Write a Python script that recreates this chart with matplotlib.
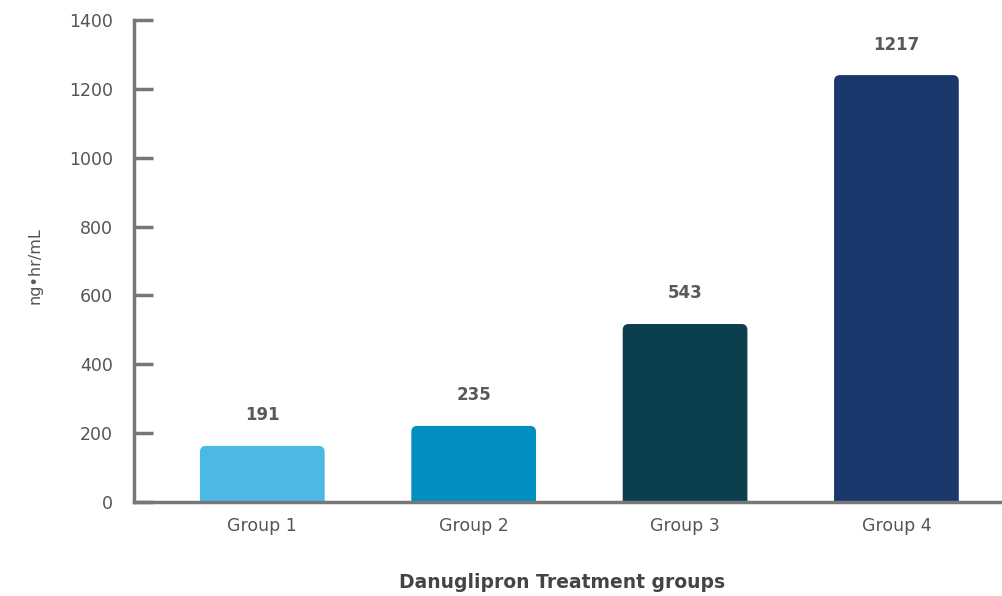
import matplotlib
matplotlib.use("Agg")
import matplotlib.pyplot as plt
from matplotlib.patches import FancyBboxPatch

categories = ["Group 1", "Group 2", "Group 3", "Group 4"]
bar_heights = [163, 221, 517, 1240]          # drawn heights
value_labels = ["191", "235", "543", "1217"]  # printed labels
colors = ["#4BB8E6", "#008FC0", "#0B3F4E", "#1A386B"]
yticks = [0, 200, 400, 600, 800, 1000, 1200, 1400]

plt.rcParams['font.family'] = ['DejaVu Sans']

fig = plt.figure(figsize=(10.02, 5.96), dpi=100)
ax = fig.add_axes([134/1002, 1-502/596, 866/1002, (502-20)/596])

x = list(range(len(categories)))
width = 0.59
bars = ax.bar(x, bar_heights, width=width, color=colors)
# replace rectangles with rounded ones
px_x = 211.0
px_y = 0.3443
rs = 6 / px_x
aspect = (1/px_y) / (1/px_x)
for b, c in zip(bars, colors):
    b.set_visible(False)
    p = FancyBboxPatch((b.get_x(), -30), b.get_width(), b.get_height() + 30,
                       boxstyle=f"round,pad=0,rounding_size={rs}",
                       mutation_aspect=aspect, facecolor=c, edgecolor='none')
    ax.add_patch(p)

for xi, h, lab in zip(x, bar_heights, value_labels):
    ax.annotate(lab, (xi, h), xytext=(0, 22), textcoords='offset points',
                ha='center', va='center', fontsize=12, fontweight='bold', color='#595959')

ax.set_xlim(-0.607, 3.49)
ax.set_ylim(0, 1400)
ax.set_yticks(yticks)
ax.set_xticks(x)
ax.set_xticklabels(categories)

for s in ['top', 'right']:
    ax.spines[s].set_visible(False)
for s in ['left', 'bottom']:
    ax.spines[s].set_color('#777777')
    ax.spines[s].set_linewidth(2.5)

ax.tick_params(axis='y', direction='in', length=14, width=2.5, color='#777777',
               labelsize=12.5, labelcolor='#555555', pad=15)
ax.tick_params(axis='x', length=0, labelsize=12.5, labelcolor='#555555', pad=11)

fig.text(35/1002, 1-266/596, "ng•hr/mL", rotation=90, ha='center', va='center',
         fontsize=11.5, color='#555555')
fig.text(562/1002, 1-583/596, "Danuglipron Treatment groups", ha='center', va='center',
         fontsize=13.5, fontweight='bold', color='#444444')

fig.savefig("out.png", dpi=100)
